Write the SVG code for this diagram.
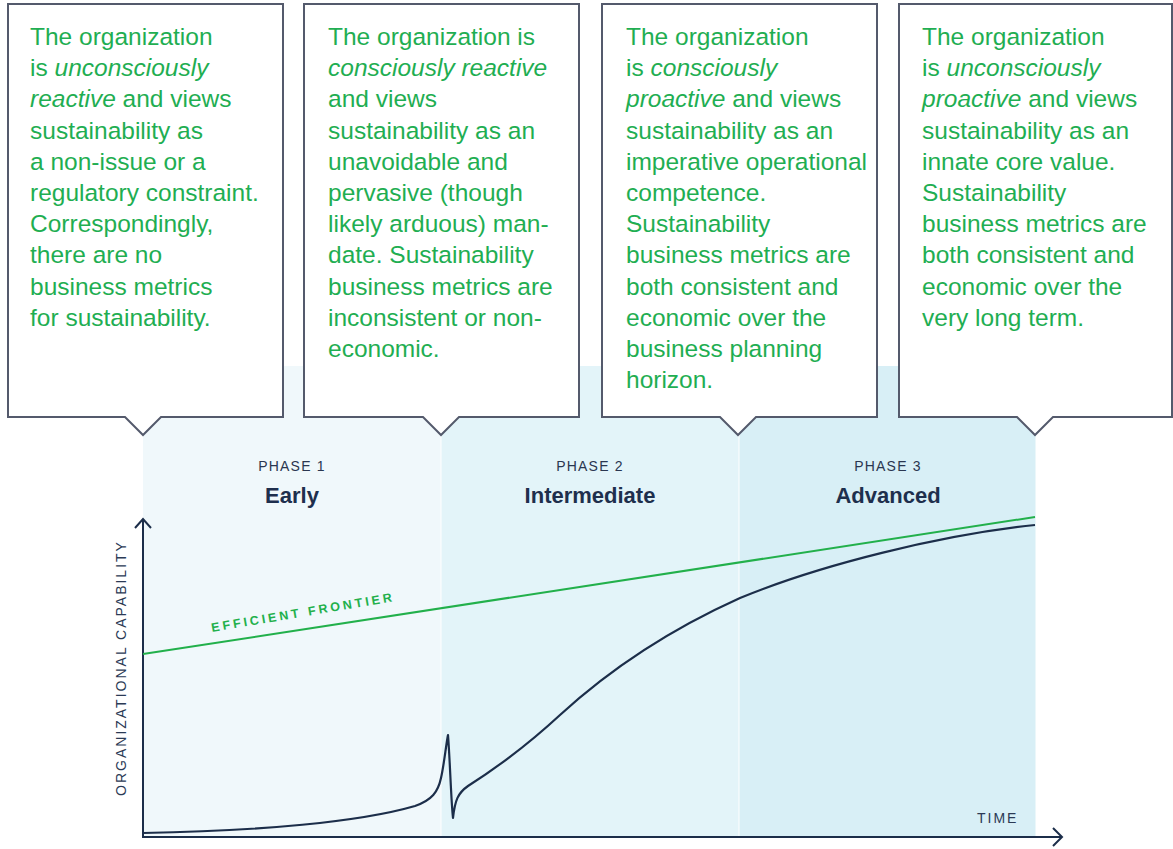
<svg xmlns="http://www.w3.org/2000/svg" width="1173" height="849" viewBox="0 0 1173 849">
  <style>
    .box { fill: #ffffff; stroke: #545a6c; stroke-width: 2; stroke-linejoin: miter; }
    .desc { font-family: "Liberation Sans", Arial, sans-serif; font-size: 24.5px; fill: #1fae52; }
    .desc .em { font-style: italic; }
    .phase { font-family: "Liberation Sans", Arial, sans-serif; font-size: 14px; letter-spacing: 1.2px; fill: #2a3650; text-anchor: middle; }
    .stage { font-family: "Liberation Sans", Arial, sans-serif; font-size: 22px; font-weight: bold; fill: #1e2f4d; text-anchor: middle; }
    .axislabel { font-family: "Liberation Sans", Arial, sans-serif; font-size: 14px; letter-spacing: 2px; fill: #2b3a55; }
    .axis { fill: none; stroke: #1c2e4a; stroke-width: 2; }
  </style>

  <!-- phase bands -->
  <g id="bands">
    <rect x="143" y="366" width="297.5" height="472" fill="#f0f8fb"/>
    <rect x="441.5" y="366" width="297" height="472" fill="#e3f4f9"/>
    <rect x="739.5" y="366" width="296" height="472" fill="#d8eff6"/>
  </g>

  <!-- phase headings -->
  <g id="phase1">
    <text class="phase" x="292" y="471">PHASE 1</text>
    <text class="stage" x="292" y="503">Early</text>
  </g>
  <g id="phase2">
    <text class="phase" x="590" y="471">PHASE 2</text>
    <text class="stage" x="590" y="503">Intermediate</text>
  </g>
  <g id="phase3">
    <text class="phase" x="888" y="471">PHASE 3</text>
    <text class="stage" x="888" y="503">Advanced</text>
  </g>

  <!-- axes -->
  <g id="axes">
    <path class="axis" d="M143,838 V519"/>
    <path class="axis" d="M135,528 L143,519 L151,528"/>
    <path class="axis" d="M142,837 H1062"/>
    <path class="axis" d="M1053,828 L1062,837 L1053,846"/>
    <text class="axislabel" transform="translate(126,668) rotate(-90)" text-anchor="middle">ORGANIZATIONAL CAPABILITY</text>
    <text class="axislabel" x="977" y="823">TIME</text>
  </g>

  <!-- curves -->
  <g id="connectors">
    <path d="M143,654 L1035,517" fill="none" stroke="#22b04b" stroke-width="2"/>
    <text transform="translate(212,632) rotate(-9.6)" font-family="Liberation Sans, Arial, sans-serif" font-size="12.5" font-weight="bold" letter-spacing="3" fill="#22b04b">EFFICIENT FRONTIER</text>
    <path d="M143,833 C260,831 360,822 415,806 C432,800 438,792 441,778 C444,765 446,745 448,735 C450,760 451,800 453,818 C455,800 458,793 468,786 C490,772 520,752 560,715 C620,660 680,625 740,598 C820,565 940,535 1035,525" fill="none" stroke="#1c2e4a" stroke-width="2.2" stroke-linejoin="round"/>
  </g>

  <!-- callout boxes -->
  <g id="box1">
    <path class="box" d="M8,4 H283 V417 H161 L143,435 L125,417 H8 Z"/>
    <text class="desc" x="30" y="45">The organization</text>
    <text class="desc" x="30" y="76">is <tspan class="em">unconsciously</tspan></text>
    <text class="desc" x="30" y="107"><tspan class="em">reactive</tspan> and views</text>
    <text class="desc" x="30" y="139">sustainability as</text>
    <text class="desc" x="30" y="170">a non-issue or a</text>
    <text class="desc" x="30" y="201">regulatory constraint.</text>
    <text class="desc" x="30" y="232">Correspondingly,</text>
    <text class="desc" x="30" y="263">there are no</text>
    <text class="desc" x="30" y="295">business metrics</text>
    <text class="desc" x="30" y="326">for sustainability.</text>
  </g>
  <g id="box2">
    <path class="box" d="M304,4 H579 V417 H459 L441,435 L423,417 H304 Z"/>
    <text class="desc" x="328" y="45">The organization is</text>
    <text class="desc" x="328" y="76"><tspan class="em">consciously reactive</tspan></text>
    <text class="desc" x="328" y="107">and views</text>
    <text class="desc" x="328" y="139">sustainability as an</text>
    <text class="desc" x="328" y="170">unavoidable and</text>
    <text class="desc" x="328" y="201">pervasive (though</text>
    <text class="desc" x="328" y="232">likely arduous) man-</text>
    <text class="desc" x="328" y="263">date. Sustainability</text>
    <text class="desc" x="328" y="295">business metrics are</text>
    <text class="desc" x="328" y="326">inconsistent or non-</text>
    <text class="desc" x="328" y="357">economic.</text>
  </g>
  <g id="box3">
    <path class="box" d="M602,4 H877 V417 H756 L738,435 L720,417 H602 Z"/>
    <text class="desc" x="626" y="45">The organization</text>
    <text class="desc" x="626" y="76">is <tspan class="em">consciously</tspan></text>
    <text class="desc" x="626" y="107"><tspan class="em">proactive</tspan> and views</text>
    <text class="desc" x="626" y="139">sustainability as an</text>
    <text class="desc" x="626" y="170">imperative operational</text>
    <text class="desc" x="626" y="201">competence.</text>
    <text class="desc" x="626" y="232">Sustainability</text>
    <text class="desc" x="626" y="263">business metrics are</text>
    <text class="desc" x="626" y="295">both consistent and</text>
    <text class="desc" x="626" y="326">economic over the</text>
    <text class="desc" x="626" y="357">business planning</text>
    <text class="desc" x="626" y="388">horizon.</text>
  </g>
  <g id="box4">
    <path class="box" d="M899,4 H1172 V417 H1053 L1035,435 L1017,417 H899 Z"/>
    <text class="desc" x="922" y="45">The organization</text>
    <text class="desc" x="922" y="76">is <tspan class="em">unconsciously</tspan></text>
    <text class="desc" x="922" y="107"><tspan class="em">proactive</tspan> and views</text>
    <text class="desc" x="922" y="139">sustainability as an</text>
    <text class="desc" x="922" y="170">innate core value.</text>
    <text class="desc" x="922" y="201">Sustainability</text>
    <text class="desc" x="922" y="232">business metrics are</text>
    <text class="desc" x="922" y="263">both consistent and</text>
    <text class="desc" x="922" y="295">economic over the</text>
    <text class="desc" x="922" y="326">very long term.</text>
  </g>
</svg>
